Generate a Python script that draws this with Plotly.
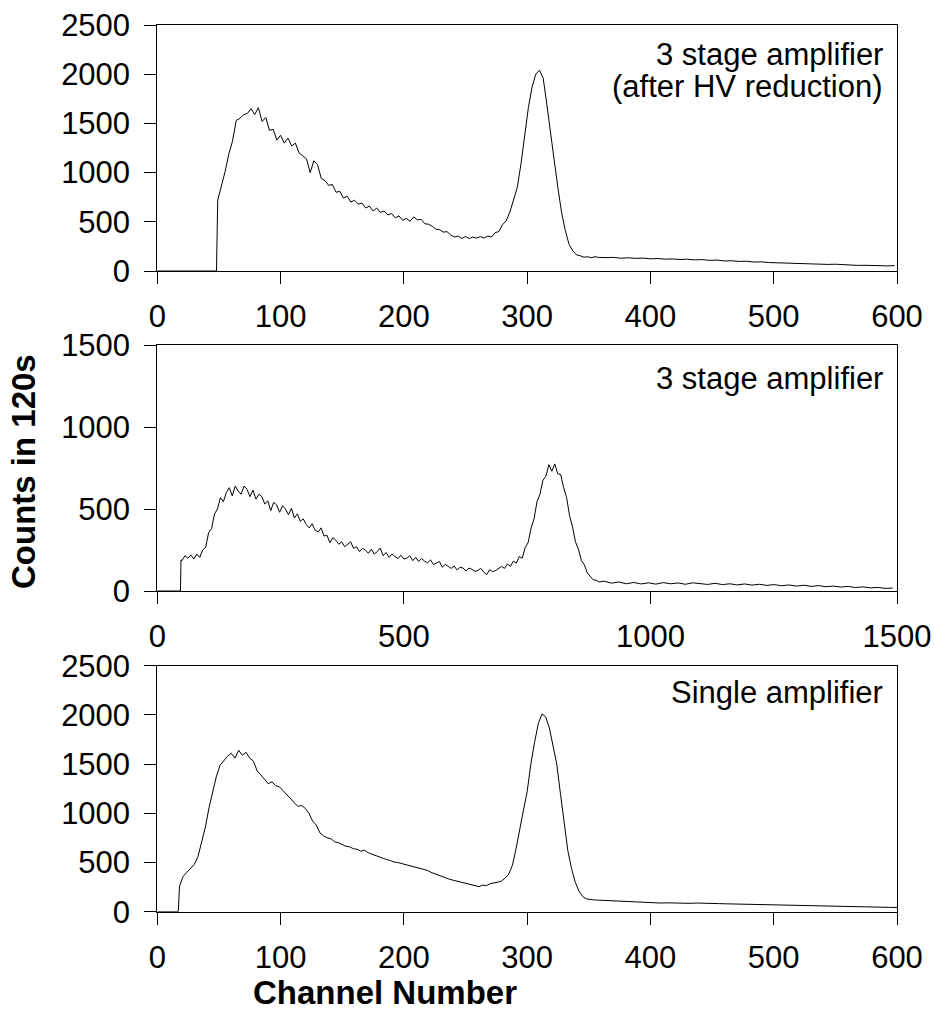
import plotly.graph_objects as go

# ---------------- data ----------------
# Top panel: 3 stage amplifier (after HV reduction)
top_x = [0, 48] + list(range(49, 361, 3)) + list(range(364, 601, 6))
top_y = [0, 0,
         720, 860, 1010, 1190, 1320, 1530, 1550, 1590, 1600, 1650, 1590, 1660, 1520, 1560,
         1430, 1440, 1330, 1380, 1300, 1350, 1270, 1300, 1200, 1170, 1140, 1000, 1120, 1080,
         940, 920, 870, 880, 800, 810, 740, 760, 700, 720, 680, 690, 640, 660,
         610, 640, 595, 610, 570, 585, 540, 560, 515, 535, 505, 550, 520, 525,
         480, 475, 455, 425, 420, 395, 400, 365, 345, 355, 330, 350, 330, 345,
         335, 350, 335, 355, 345, 390, 400, 470, 510, 600, 730, 850, 1090, 1360,
         1660, 1870, 2000, 2040, 1960, 1690, 1430, 1120, 840, 590, 410, 270, 205, 165,
         155, 140, 145, 135, 145, 138,
         136, 138, 130, 134, 128, 131, 124, 127, 120, 123, 117, 120, 113, 116, 108, 111,
         102, 104, 97, 99, 91, 93, 86, 84, 79, 76, 71, 73, 69, 72, 67, 69, 63, 61, 57, 58,
         54, 56, 52, 55]

# Middle panel: 3 stage amplifier
mid_x = [0, 47, 48] + list(range(50, 897, 6)) + list(range(906, 1501, 15))
mid_y = [0, 0, 190,
         185, 215, 200, 220, 195, 225, 205, 250, 265, 355,    # 50-104
         380, 470, 500, 570, 545, 600, 630, 580, 640, 610,    # 110-164
         590, 640, 620, 575, 615, 560, 590, 575, 530, 550,    # 170-224
         490, 540, 525, 480, 520, 500, 465, 505, 445, 470,    # 230-284
         425, 440, 405, 385, 410, 370, 360, 385, 335, 340,    # 290-344
         295, 325, 310, 285, 300, 270, 285, 300, 260, 270,    # 350-404
         240, 260, 250, 230, 255, 225, 240, 262, 215, 235,    # 410-464
         205, 225, 210, 198, 218, 195, 200, 215, 185, 205,    # 470-524
         180, 198, 182, 172, 190, 162, 170, 180, 145, 162,    # 530-584
         150, 138, 152, 128, 145, 140, 122, 140, 132, 120,    # 590-644
         125, 138, 115, 100, 130, 118, 125, 140, 150, 138,    # 650-704
         165, 150, 182, 170, 210, 200, 265, 295, 385, 440,    # 710-764
         545, 590, 675, 700, 770, 730, 775, 715, 710, 630,    # 770-824
         570, 460, 390, 300, 255, 185, 160, 110, 92, 68,      # 830-884
         66, 55,                                              # 890-896
         60, 48, 55, 44, 52, 43, 50, 42, 51, 44, 49, 41, 50, 45, 40, 47, 39, 44, 37, 43,
         36, 41, 34, 39, 32, 37, 30, 35, 28, 33, 26, 30, 24, 28, 21, 25, 19, 22, 16, 18]

# Bottom panel: single amplifier
bot_x = [0, 17] + list(range(18, 361, 3)) + list(range(366, 601, 6))
bot_y = [0, 0,
         260, 360, 400, 440, 480, 560, 700, 860, 1060, 1230, 1380, 1490, 1540, 1580,
         1610, 1560, 1640, 1590, 1620, 1560, 1530, 1430, 1390, 1350, 1300, 1320, 1280, 1270,
         1230, 1180, 1140, 1100, 1070, 1080, 1050, 1000, 920, 880, 800, 770, 750, 740,
         710, 700, 680, 665, 660, 640, 635, 615, 625, 600, 585, 570, 560, 540, 530, 520,
         505, 500, 490, 480, 470, 462, 450, 440, 430, 420, 400, 385, 370, 360, 340, 330,
         320, 310, 300, 290, 285, 275, 265, 255, 270, 265, 285, 290, 300, 310, 340, 380,
         470, 640, 850, 1030, 1220, 1500, 1720, 1910, 2010, 1980, 1870, 1690, 1500, 1200,
         900, 620, 440, 300, 210, 155, 130, 122, 120, 118, 116,
         112, 108, 104, 99, 96, 93, 91, 88, 90, 86, 89, 85, 88, 84, 86, 82, 80, 78, 79, 75,
         77, 72, 70, 66, 68, 65, 66, 62, 60, 58, 56, 54, 52, 51, 48, 47, 46, 45, 44, 43]

panel_labels = [["3 stage amplifier", "(after HV reduction)"],
                ["3 stage amplifier"],
                ["Single amplifier"]]
x_ranges = [[0, 600], [0, 1500], [0, 600]]
y_ranges = [[0, 2500], [0, 1500], [0, 2500]]
x_ticks = [[0, 100, 200, 300, 400, 500, 600], [0, 500, 1000, 1500], [0, 100, 200, 300, 400, 500, 600]]
y_ticks = [[0, 500, 1000, 1500, 2000, 2500], [0, 500, 1000, 1500], [0, 500, 1000, 1500, 2000, 2500]]
x_title = "Channel Number"
y_title = "Counts in 120s"

# ---------------- figure ----------------
W, H = 934, 1026
FONT = "Liberation Sans, Arial, sans-serif"

def px_x(p):
    return p / W

def px_y(p):
    return 1 - p / H

x_dom = [px_x(157.3), px_x(897)]
y_doms = [[px_y(271), px_y(25)], [px_y(591), px_y(345)], [px_y(911.7), px_y(665.7)]]

fig = go.Figure()
series = [(top_x, top_y), (mid_x, mid_y), (bot_x, bot_y)]
for i, (xs, ys) in enumerate(series):
    sfx = "" if i == 0 else str(i + 1)
    fig.add_trace(go.Scatter(x=xs, y=ys, mode="lines",
                             line=dict(color="black", width=1),
                             xaxis="x" + sfx, yaxis="y" + sfx, showlegend=False))

axis_common = dict(showline=True, mirror=True, linecolor="black", linewidth=1,
                   ticks="outside", ticklen=12, tickwidth=1, tickcolor="black",
                   showgrid=False, zeroline=False, automargin=False,
                   ticklabeloverflow="allow",
                   tickfont=dict(family=FONT, size=31, color="black"))

layout = dict(width=W, height=H, margin=dict(l=0, r=0, t=0, b=0, autoexpand=False),
              paper_bgcolor="white", plot_bgcolor="white", showlegend=False)
for i in range(3):
    sfx = "" if i == 0 else str(i + 1)
    layout["xaxis" + sfx] = dict(axis_common, domain=x_dom, range=x_ranges[i],
                                 tickvals=x_ticks[i], anchor="y" + sfx,
                                 ticklabelstandoff=6)
    layout["yaxis" + sfx] = dict(axis_common, domain=y_doms[i], range=y_ranges[i],
                                 tickvals=y_ticks[i], anchor="x" + sfx,
                                 ticklabelstandoff=8)
fig.update_layout(**layout)

ann = []
label_pos = [[55, 87], [378], [692]]
for i, lines in enumerate(panel_labels):
    for j, t in enumerate(lines):
        ann.append(dict(text=t, x=px_x(885), y=px_y(label_pos[i][j]), xref="paper", yref="paper",
                        xanchor="right", yanchor="middle", showarrow=False,
                        font=dict(family=FONT, size=31, color="black")))
ann.append(dict(text="<b>" + x_title + "</b>", x=px_x(385), y=px_y(992), xref="paper", yref="paper",
                xanchor="center", yanchor="middle", showarrow=False,
                font=dict(family=FONT, size=33, color="black")))
ann.append(dict(text="<b>" + y_title + "</b>", x=px_x(23), y=px_y(472), xref="paper", yref="paper",
                xanchor="center", yanchor="middle", showarrow=False, textangle=-90,
                font=dict(family=FONT, size=33, color="black")))
fig.update_layout(annotations=ann)

fig.write_html("out.html", config={"displayModeBar": False},
               post_script="document.body.style.margin='0';document.body.style.overflow='hidden';")
